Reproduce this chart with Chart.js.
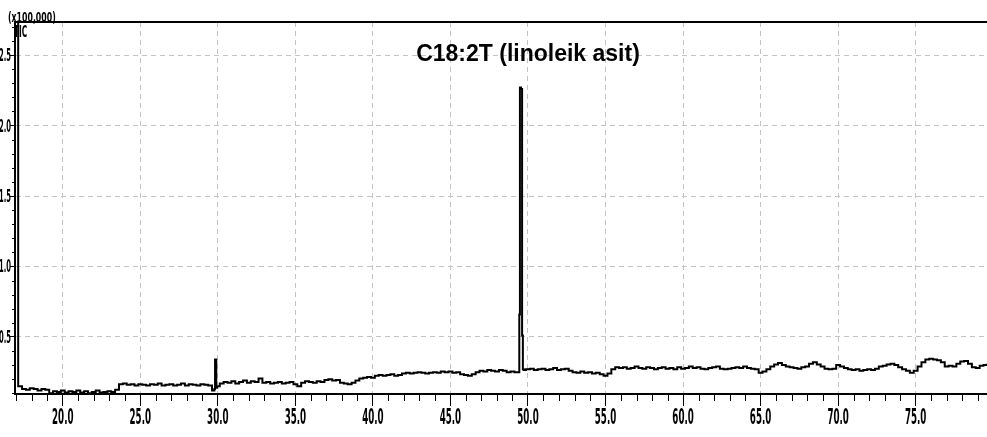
<!DOCTYPE html>
<html>
<head>
<meta charset="utf-8">
<script src="https://cdn.jsdelivr.net/npm/chart.js@4.4.1/dist/chart.umd.min.js"></script>
<style>
  html, body { margin: 0; padding: 0; background: #fff; overflow: hidden; }
  canvas { display: block; }
</style>
</head>
<body>
<canvas id="tic" width="987" height="437"></canvas>
<script>
// TIC kromatogramı - C18:2T (linoleik asit)

// taban çizgisi: 17.0 dk'dan başlayıp 0.25 dk aralıkla okunan değerler (x100,000)
const scanStart = 17.0;
const scanStep = 0.25;
const baseline = [
  3.0, 0.15, 0.13, 0.125, 0.135, 0.13, 0.12, 0.13,          // 17.0
  0.125, 0.10, 0.115, 0.11, 0.12, 0.105, 0.115, 0.11,       // 19.0
  0.12, 0.105, 0.115, 0.10, 0.11, 0.12, 0.105, 0.11,        // 21.0
  0.115, 0.11, 0.125, 0.165, 0.17, 0.16, 0.165, 0.155,      // 23.0
  0.165, 0.16, 0.155, 0.165, 0.16, 0.17, 0.155, 0.16,       // 25.0
  0.165, 0.155, 0.16, 0.17, 0.155, 0.165, 0.16, 0.155,      // 27.0
  0.165, 0.16, 0.155, 0.12, 0.15, 0.17, 0.18, 0.175,        // 29.0
  0.185, 0.17, 0.18, 0.19, 0.175, 0.185, 0.18, 0.205,       // 31.0
  0.175, 0.18, 0.17, 0.175, 0.18, 0.17, 0.175, 0.18,        // 33.0
  0.165, 0.15, 0.175, 0.185, 0.18, 0.175, 0.185, 0.18,      // 35.0
  0.195, 0.20, 0.19, 0.195, 0.175, 0.17, 0.165, 0.175,      // 37.0
  0.19, 0.205, 0.21, 0.215, 0.21, 0.225, 0.23, 0.225,       // 39.0
  0.23, 0.235, 0.225, 0.23, 0.24, 0.245, 0.24, 0.245,       // 41.0
  0.25, 0.245, 0.24, 0.245, 0.25, 0.245, 0.255, 0.25,       // 43.0
  0.255, 0.245, 0.25, 0.235, 0.23, 0.225, 0.235, 0.25,      // 45.0
  0.26, 0.255, 0.265, 0.26, 0.255, 0.265, 0.26, 0.25,       // 47.0
  0.255, 0.25, 0.25, 0.265, 0.27, 0.275, 0.265, 0.27,       // 49.0
  0.275, 0.265, 0.27, 0.28, 0.265, 0.27, 0.275, 0.26,       // 51.0
  0.25, 0.245, 0.255, 0.245, 0.25, 0.24, 0.245, 0.235,      // 53.0
  0.225, 0.24, 0.27, 0.285, 0.28, 0.285, 0.275, 0.28,       // 55.0
  0.29, 0.28, 0.275, 0.285, 0.28, 0.27, 0.28, 0.285,        // 57.0
  0.275, 0.28, 0.27, 0.285, 0.275, 0.28, 0.29, 0.28,        // 59.0
  0.285, 0.275, 0.27, 0.28, 0.285, 0.29, 0.275, 0.27,       // 61.0
  0.275, 0.28, 0.285, 0.28, 0.29, 0.28, 0.275, 0.27,        // 63.0
  0.245, 0.255, 0.27, 0.29, 0.305, 0.315, 0.30, 0.29,       // 65.0
  0.285, 0.28, 0.275, 0.285, 0.29, 0.31, 0.32, 0.305,       // 67.0
  0.29, 0.275, 0.27, 0.275, 0.30, 0.29, 0.28, 0.27,         // 69.0
  0.265, 0.27, 0.26, 0.265, 0.27, 0.265, 0.275, 0.29,       // 71.0
  0.295, 0.305, 0.31, 0.30, 0.285, 0.27, 0.26, 0.245,       // 73.0
  0.26, 0.29, 0.32, 0.34, 0.345, 0.34, 0.335, 0.32,         // 75.0
  0.29, 0.295, 0.29, 0.31, 0.325, 0.33, 0.31, 0.285,        // 77.0
  0.28, 0.295, 0.30, 0.305                                  // 79.0
];

// pikler
const minorPeakTimes  = [29.80, 29.84, 29.88, 29.92];
const minorPeakValues = [0.13, 0.34, 0.34, 0.14];
const mainPeakTimes   = [49.42, 49.46, 49.50, 49.60, 49.64, 49.70];
const mainPeakValues  = [0.25, 0.66, 2.27, 2.26, 0.51, 0.27];

const xTicks = [20, 25, 30, 35, 40, 45, 50, 55, 60, 65, 70, 75];
const yTicks = [0.5, 1.0, 1.5, 2.0, 2.5];
const peakLabel = 'C18:2T (linoleik asit)';
const yUnitLabel = '(x100,000)';
const traceLabel = 'TIC';

// ara çentikler (1 dk, 0.1 birim)
const xMinor = [];
for (let t = 17; t <= 79; t++) if (t % 5) xMinor.push(t);
const yMinor = [];
for (let k = 1; k <= 27; k++) if (k % 5) yMinor.push(k / 10);

// seriyi birleştir
const peakWindows = [
  [minorPeakTimes[0], minorPeakTimes[minorPeakTimes.length - 1]],
  [mainPeakTimes[0], mainPeakTimes[mainPeakTimes.length - 1]]
];
const points = baseline
  .map((v, i) => ({ x: scanStart + i * scanStep, y: v }))
  .filter(p => !peakWindows.some(([a, b]) => p.x >= a && p.x <= b));
minorPeakTimes.forEach((t, i) => points.push({ x: t, y: minorPeakValues[i] }));
mainPeakTimes.forEach((t, i) => points.push({ x: t, y: mainPeakValues[i] }));
points.sort((a, b) => a.x - b.x);

const narrowFamily = '"DejaVu Sans Condensed", "DejaVu Sans", sans-serif';

// dar, uzun yazı (cihaz çıktısındaki font gibi)
function squeezed(ctx, text, x, y, font, sx, align, baseline) {
  ctx.save();
  ctx.translate(x, y);
  ctx.scale(sx, 1);
  ctx.font = font + ' ' + narrowFamily;
  ctx.textAlign = align;
  ctx.textBaseline = baseline;
  ctx.fillText(text, 0, 0);
  ctx.restore();
}

const decor = {
  id: 'decor',
  afterDraw(chart) {
    const { ctx, chartArea: a, scales: { x, y } } = chart;
    ctx.save();
    ctx.strokeStyle = '#000';
    ctx.lineWidth = 1;
    xMinor.forEach(v => {
      const px = Math.round(x.getPixelForValue(v)) + 0.5;
      ctx.beginPath(); ctx.moveTo(px, a.bottom); ctx.lineTo(px, a.bottom + 7); ctx.stroke();
    });
    yMinor.forEach(v => {
      const py = Math.round(y.getPixelForValue(v)) + 0.5;
      ctx.beginPath(); ctx.moveTo(a.left - 3, py); ctx.lineTo(a.left, py); ctx.stroke();
    });
    // üst çerçeve
    ctx.lineWidth = 2;
    ctx.beginPath(); ctx.moveTo(a.left, a.top); ctx.lineTo(a.right, a.top); ctx.stroke();

    ctx.fillStyle = '#000';
    xTicks.forEach(v => squeezed(ctx, v.toFixed(1), x.getPixelForValue(v), a.bottom + 30, 'bold 21px', 0.46, 'center', 'alphabetic'));
    yTicks.forEach(v => squeezed(ctx, v.toFixed(1), a.left - 4, y.getPixelForValue(v) + 6, 'bold 18px', 0.42, 'right', 'alphabetic'));
    squeezed(ctx, yUnitLabel, 8, 22, 'bold 14px', 0.62, 'left', 'alphabetic');
    squeezed(ctx, traceLabel, 14, 37, 'bold 15px', 0.55, 'left', 'alphabetic');

    ctx.font = 'bold 23px "Liberation Sans", Arial, sans-serif';
    ctx.textAlign = 'center';
    ctx.textBaseline = 'middle';
    ctx.fillText(peakLabel, 528, 55);
    ctx.restore();
  }
};

new Chart(document.getElementById('tic'), {
  type: 'line',
  data: {
    datasets: [{
      label: traceLabel,
      data: points,
      borderColor: '#000',
      borderWidth: 2,
      pointRadius: 0,
      stepped: 'middle',
      fill: false
    }]
  },
  options: {
    responsive: false,
    animation: false,
    layout: { padding: { top: 22, right: 0, left: 0, bottom: 0 } },
    plugins: { legend: { display: false }, tooltip: { enabled: false } },
    scales: {
      x: {
        type: 'linear',
        min: 16.92, max: 79.6,
        afterBuildTicks: s => { s.ticks = xTicks.map(v => ({ value: v })); },
        afterFit: s => { s.height = 43; },
        ticks: { display: false, autoSkip: false, maxRotation: 0 },
        grid: { color: '#c4c4c4', lineWidth: 1, tickLength: 12, tickColor: '#000', tickWidth: 1 },
        border: { display: true, color: '#000', width: 2, dash: [5, 4] }
      },
      y: {
        type: 'linear',
        min: 0.095, max: 2.735,
        afterBuildTicks: s => { s.ticks = yTicks.map(v => ({ value: v })); },
        afterFit: s => { s.width = 15; },
        ticks: { display: false, autoSkip: false },
        grid: { color: '#c4c4c4', lineWidth: 1, tickLength: 5, tickColor: '#000', tickWidth: 1 },
        border: { display: true, color: '#000', width: 2, dash: [5, 4] }
      }
    }
  },
  plugins: [decor]
});
</script>
</body>
</html>
